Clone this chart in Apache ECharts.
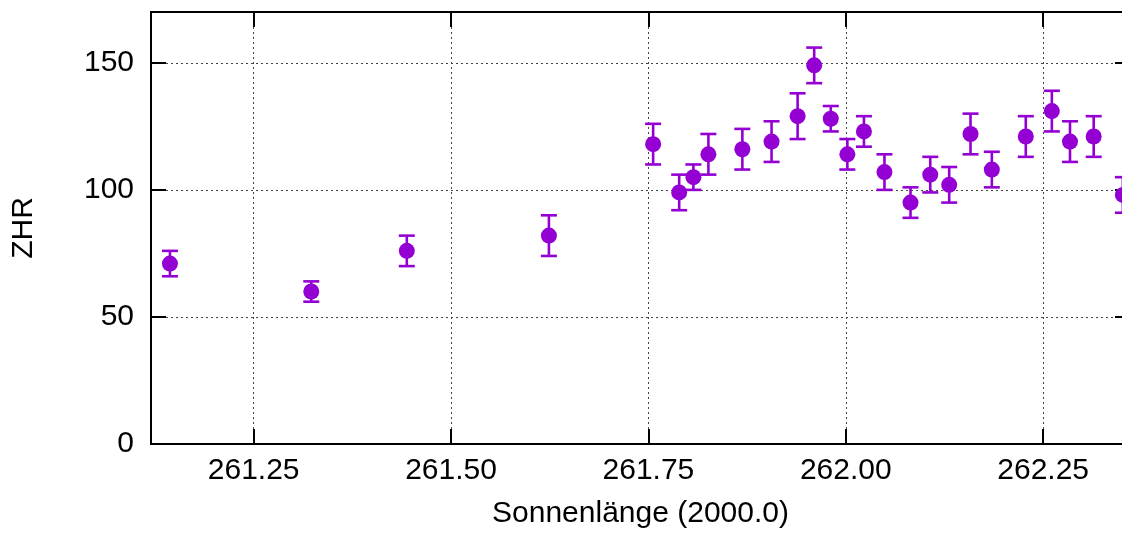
<!DOCTYPE html>
<html>
<head>
<meta charset="utf-8">
<script src="https://cdn.jsdelivr.net/npm/echarts@6/dist/echarts.min.js"></script>
<style>
html,body{margin:0;padding:0;background:#fff;}
#c{width:1122px;height:536px;}
</style>
</head>
<body>
<div id="c"></div>
<script>
// Solar longitude (2000.0)
var solarLongitude = [261.144, 261.323, 261.444, 261.624, 261.756, 261.789, 261.807, 261.826, 261.869, 261.906, 261.939, 261.960, 261.981, 262.002, 262.023, 262.049, 262.082, 262.107, 262.131, 262.158, 262.185, 262.228, 262.261, 262.284, 262.314, 262.351];
// ZHR values
var zhr = [71, 60, 76, 82, 118, 99, 105, 114, 116, 119, 129, 149, 128, 114, 123, 107, 95, 106, 102, 122, 108, 121, 131, 119, 121, 98];
// symmetric error (±)
var zhrError = [5, 4, 6, 8, 8, 7, 5, 8, 8, 8, 9, 7, 5, 6, 6, 7, 6, 7, 7, 8, 7, 8, 8, 8, 8, 7];

var xTickLabels = ['261.25', '261.50', '261.75', '262.00', '262.25'];
var yTickLabels = ['0', '50', '100', '150'];

var COLOR = '#9400D3';
var FONT = '"Liberation Sans", Arial, sans-serif';

var xTickValues = xTickLabels.map(Number);
var points = solarLongitude.map(function (x, i) { return [x, zhr[i]]; });
var errData = solarLongitude.map(function (x, i) { return [x, zhr[i] - zhrError[i], zhr[i] + zhrError[i]]; });

var chart = echarts.init(document.getElementById('c'), null, {renderer: 'canvas'});

var gridLineStyle = {color: '#444', width: 1, type: [2, 3]};
var axisLineStyle = {show: true, onZero: false, lineStyle: {color: '#000', width: 2}};

chart.setOption({
  animation: false,
  backgroundColor: '#fff',
  grid: {left: 151, top: 12, width: 979, height: 432, show: true, borderColor: '#000', borderWidth: 2,
         backgroundColor: 'transparent', outerBoundsMode: 'none', containLabel: false},
  xAxis: [{
    type: 'value', min: 261.12, max: 262.36,
    position: 'bottom',
    axisLine: axisLineStyle,
    axisTick: {show: true, inside: true, length: 15, customValues: xTickValues, lineStyle: {color: '#000', width: 2}},
    splitLine: {show: true, customValues: xTickValues, lineStyle: gridLineStyle},
    axisLabel: {
      show: true, margin: 12, color: '#000', fontSize: 30, fontFamily: FONT,
      customValues: xTickValues,
      formatter: function (v) { return v.toFixed(2); }
    },
    name: 'Sonnenlänge (2000.0)', nameLocation: 'middle', nameGap: 55,
    nameTextStyle: {color: '#000', fontSize: 30, fontFamily: FONT}
  }, {
    type: 'value', min: 261.12, max: 262.36,
    position: 'top',
    axisLine: axisLineStyle,
    axisTick: {show: true, inside: true, length: 15, customValues: xTickValues, lineStyle: {color: '#000', width: 2}},
    axisLabel: {show: false},
    splitLine: {show: false}
  }],
  yAxis: [{
    type: 'value', min: 0, max: 170, interval: 50,
    position: 'left',
    axisLine: axisLineStyle,
    axisTick: {show: true, inside: true, length: 15, lineStyle: {color: '#000', width: 2}},
    splitLine: {show: true, lineStyle: gridLineStyle},
    axisLabel: {
      show: true, margin: 17, color: '#000', fontSize: 30, fontFamily: FONT,
      formatter: function (v) { var s = String(v); return yTickLabels.indexOf(s) >= 0 ? s : ''; }
    },
    name: 'ZHR', nameLocation: 'middle', nameGap: 112, nameRotate: 90,
    nameTextStyle: {color: '#000', fontSize: 30, fontFamily: FONT}
  }, {
    type: 'value', min: 0, max: 170, interval: 50,
    position: 'right',
    axisLine: axisLineStyle,
    axisTick: {show: true, inside: true, length: 15, lineStyle: {color: '#000', width: 2}},
    axisLabel: {show: false},
    splitLine: {show: false}
  }],
  series: [{
    type: 'custom',
    xAxisIndex: 0, yAxisIndex: 0,
    clip: true,
    data: errData,
    renderItem: function (params, api) {
      var x = api.value(0);
      var lo = api.coord([x, api.value(1)]);
      var hi = api.coord([x, api.value(2)]);
      var hw = 8;
      var st = {stroke: COLOR, lineWidth: 2.6, fill: null};
      return {
        type: 'group',
        children: [
          {type: 'line', shape: {x1: lo[0], y1: lo[1], x2: hi[0], y2: hi[1]}, style: st},
          {type: 'line', shape: {x1: lo[0] - hw, y1: lo[1], x2: lo[0] + hw, y2: lo[1]}, style: st},
          {type: 'line', shape: {x1: hi[0] - hw, y1: hi[1], x2: hi[0] + hw, y2: hi[1]}, style: st}
        ]
      };
    },
    z: 3
  }, {
    type: 'scatter',
    xAxisIndex: 0, yAxisIndex: 0,
    data: points,
    symbol: 'circle',
    symbolSize: 16,
    itemStyle: {color: COLOR, opacity: 1},
    z: 4
  }]
});
</script>
</body>
</html>
